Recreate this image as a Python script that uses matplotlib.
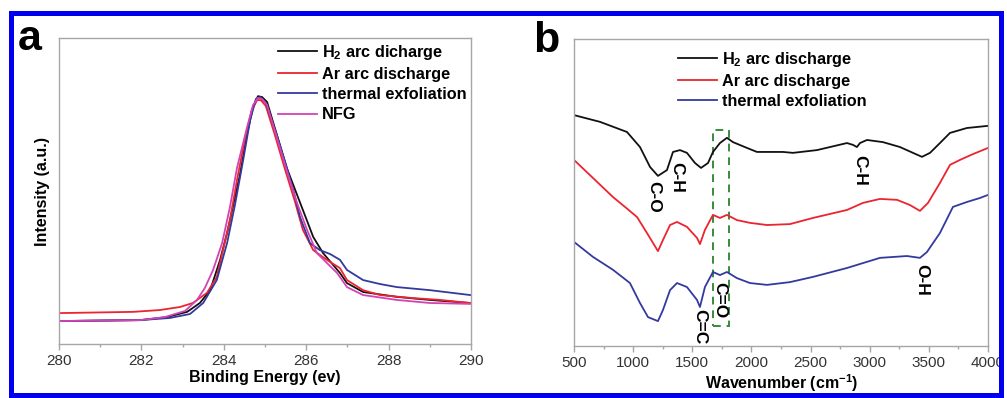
import matplotlib
matplotlib.use("Agg")
import matplotlib.pyplot as plt
from matplotlib.patches import Rectangle
from matplotlib.ticker import MultipleLocator

plt.rcParams["font.family"] = ["Liberation Sans", "DejaVu Sans"]
plt.rcParams["mathtext.fontset"] = "custom"
plt.rcParams["mathtext.rm"] = "Liberation Sans:bold"
plt.rcParams["mathtext.default"] = "rm"

# ---- panel a: XPS C1s (binding energy, normalised intensity) ----
e_h2 = [280.02, 281.97, 282.62, 283.11, 283.42, 283.67, 283.91, 284.08, 284.22, 284.39,
        284.56, 284.71, 284.83, 284.93, 285.05, 285.29, 285.53, 285.78, 285.92, 286.17,
        286.41, 286.82, 286.99, 287.38, 288.20, 289.00, 289.98]
i_h2 = [0.075, 0.078, 0.088, 0.105, 0.134, 0.176, 0.275, 0.363, 0.448, 0.552,
        0.683, 0.775, 0.810, 0.807, 0.791, 0.683, 0.575, 0.487, 0.438, 0.350,
        0.297, 0.232, 0.199, 0.170, 0.154, 0.144, 0.134]

e_ar = [280.02, 281.80, 282.45, 282.94, 283.25, 283.59, 283.83, 283.98, 284.15, 284.32,
        284.51, 284.68, 284.81, 284.90, 285.02, 285.24, 285.49, 285.73, 285.92, 286.17,
        286.50, 286.82, 286.99, 287.38, 287.79, 288.59, 289.25, 289.98]
i_ar = [0.101, 0.105, 0.111, 0.121, 0.134, 0.167, 0.219, 0.307, 0.405, 0.536,
        0.667, 0.765, 0.797, 0.797, 0.778, 0.683, 0.569, 0.464, 0.373, 0.307,
        0.275, 0.248, 0.209, 0.176, 0.160, 0.150, 0.144, 0.134]

e_te = [280.02, 281.97, 282.69, 283.18, 283.50, 283.83, 284.08, 284.27, 284.47, 284.64,
        284.78, 284.88, 285.02, 285.27, 285.51, 285.70, 285.85, 286.09, 286.33, 286.58,
        286.82, 286.99, 287.38, 287.79, 288.20, 289.00, 289.98]
i_te = [0.075, 0.078, 0.085, 0.098, 0.134, 0.209, 0.330, 0.454, 0.601, 0.732,
        0.801, 0.807, 0.788, 0.690, 0.585, 0.497, 0.415, 0.330, 0.307, 0.294,
        0.275, 0.242, 0.209, 0.196, 0.186, 0.176, 0.160]

e_nfg = [280.02, 281.97, 282.57, 283.06, 283.35, 283.54, 283.74, 283.96, 284.15, 284.32,
         284.56, 284.71, 284.83, 284.93, 285.05, 285.27, 285.51, 285.75, 286.02, 286.26,
         286.75, 286.99, 287.38, 288.20, 289.00, 289.98]
i_nfg = [0.075, 0.078, 0.088, 0.108, 0.144, 0.183, 0.242, 0.330, 0.448, 0.575,
         0.706, 0.781, 0.804, 0.801, 0.781, 0.683, 0.575, 0.471, 0.373, 0.297,
         0.232, 0.186, 0.160, 0.144, 0.134, 0.131]

# ---- panel b: FTIR (wavenumber, transmittance offset) ----
w_h2 = [500, 720, 948, 1058, 1143, 1210, 1286, 1337, 1396, 1455, 1523, 1574, 1633, 1675,
        1734, 1793, 1844, 1963, 2047, 2267, 2351, 2554, 2808, 2859, 2892, 2918, 2977,
        3112, 3256, 3366, 3442, 3510, 3594, 3679, 3822, 4000]
t_h2 = [0.752, 0.730, 0.697, 0.648, 0.583, 0.554, 0.573, 0.632, 0.638, 0.629, 0.596,
        0.580, 0.596, 0.632, 0.661, 0.678, 0.664, 0.645, 0.632, 0.632, 0.629, 0.638,
        0.661, 0.655, 0.648, 0.661, 0.671, 0.664, 0.648, 0.629, 0.616, 0.629, 0.661,
        0.694, 0.710, 0.717]

w_ar = [500, 661, 830, 931, 1033, 1117, 1210, 1252, 1312, 1371, 1455, 1540, 1565, 1607,
        1675, 1734, 1793, 1878, 1988, 2132, 2326, 2520, 2808, 2943, 3087, 3231, 3341,
        3425, 3493, 3594, 3679, 3763, 3873, 4000]
t_ar = [0.606, 0.547, 0.485, 0.453, 0.420, 0.368, 0.309, 0.345, 0.394, 0.404, 0.388,
        0.352, 0.332, 0.378, 0.427, 0.417, 0.427, 0.410, 0.401, 0.394, 0.397, 0.417,
        0.443, 0.466, 0.479, 0.476, 0.459, 0.440, 0.466, 0.531, 0.590, 0.606, 0.625,
        0.645]

w_te = [500, 661, 830, 973, 1058, 1126, 1210, 1252, 1312, 1371, 1455, 1540, 1565, 1607,
        1675, 1734, 1793, 1878, 1988, 2132, 2326, 2520, 2808, 2943, 3087, 3315, 3425,
        3484, 3594, 3704, 3822, 3932, 4000]
t_te = [0.339, 0.290, 0.248, 0.205, 0.140, 0.094, 0.081, 0.117, 0.182, 0.205, 0.192,
        0.150, 0.127, 0.192, 0.241, 0.231, 0.241, 0.221, 0.205, 0.199, 0.208, 0.225,
        0.254, 0.270, 0.287, 0.293, 0.287, 0.306, 0.368, 0.453, 0.469, 0.482, 0.492]

bond_labels = ["C-O", "C-H", "C=C", "C=O", "C-H", "O-H"]
bond_w = [1176, 1371, 1565, 1734, 2918, 3442]
bond_t = [0.485, 0.550, 0.062, 0.150, 0.573, 0.215]

black, red, blue, magenta = "#111111", "#ec2430", "#333a9e", "#d443b4"
spine_col = "#a6a6a6"

fig = plt.figure(figsize=(10.07, 3.98), dpi=100)

# blue frame around the whole figure
fig.patches.append(Rectangle((10.5 / 1007, 3.5 / 398), 990.5 / 1007, 382 / 398,
                             transform=fig.transFigure, fill=False,
                             edgecolor="#0000ee", linewidth=3.6))

ax1 = fig.add_axes([0.0586, 0.1357, 0.4091, 0.7688])
ax2 = fig.add_axes([0.5700, 0.1307, 0.4111, 0.7714])

leg_kw = dict(loc="upper left", frameon=False, borderaxespad=0, borderpad=0,
              handlelength=2.4, handletextpad=0.3, labelspacing=0.32,
              prop={"weight": "bold", "size": 11.7})

ax1.plot(e_h2, i_h2, color=black, lw=1.3, label="H$_2$ arc dicharge")
ax1.plot(e_ar, i_ar, color=red, lw=1.3, label="Ar arc discharge")
ax1.plot(e_te, i_te, color=blue, lw=1.3, label="thermal exfoliation")
ax1.plot(e_nfg, i_nfg, color=magenta, lw=1.3, label="NFG")
ax1.set_xlim(280, 290)
ax1.set_ylim(0, 1)
ax1.xaxis.set_major_locator(MultipleLocator(2))
ax1.xaxis.set_minor_locator(MultipleLocator(1))
ax1.set_xlabel("Binding Energy (ev)", fontsize=11.5, fontweight="bold")
ax1.set_ylabel("Intensity (a.u.)", fontsize=11.5, fontweight="bold")
ax1.xaxis.set_label_coords(0.5, -0.086)
ax1.yaxis.set_label_coords(-0.022, 0.5)
ax1.legend(bbox_to_anchor=(0.532, 0.985), **leg_kw)

ax2.plot(w_h2, t_h2, color=black, lw=1.3, label="H$_2$ arc discharge")
ax2.plot(w_ar, t_ar, color=red, lw=1.3, label="Ar arc discharge")
ax2.plot(w_te, t_te, color=blue, lw=1.3, label="thermal exfoliation")
ax2.set_xlim(500, 4000)
ax2.set_ylim(0, 1)
ax2.xaxis.set_major_locator(MultipleLocator(500))
ax2.xaxis.set_minor_locator(MultipleLocator(250))
ax2.set_xlabel("Wavenumber (cm$^{-1}$)", fontsize=11.5, fontweight="bold")
ax2.xaxis.set_label_coords(0.502, -0.086)
ax2.legend(bbox_to_anchor=(0.251, 0.965), **leg_kw)

# dashed box around the C=O band
ax2.add_patch(Rectangle((1675, 0.065), 135, 0.639, fill=False, edgecolor="#3a8a3a",
                        linestyle=(0, (4, 3)), linewidth=1.4))

for lab, w, t in zip(bond_labels, bond_w, bond_t):
    ax2.text(w, t, lab, rotation=-90, ha="center", va="center",
             fontsize=12.5, fontweight="bold")

for ax in (ax1, ax2):
    for sp in ax.spines.values():
        sp.set_color(spine_col)
        sp.set_linewidth(1.0)
    ax.set_yticks([])
    ax.tick_params(axis="x", which="major", direction="out", length=4.5, width=1,
                   color=spine_col, labelsize=11, labelcolor="#333333", pad=3)
    ax.tick_params(axis="x", which="minor", direction="out", length=2.5, width=1,
                   color=spine_col)

fig.text(18 / 1007, 1 - 50 / 398, "a", fontsize=31, fontweight="bold", va="baseline")
fig.text(533 / 1007, 1 - 52 / 398, "b", fontsize=31, fontweight="bold", va="baseline")

fig.savefig("out.png", dpi=100)
